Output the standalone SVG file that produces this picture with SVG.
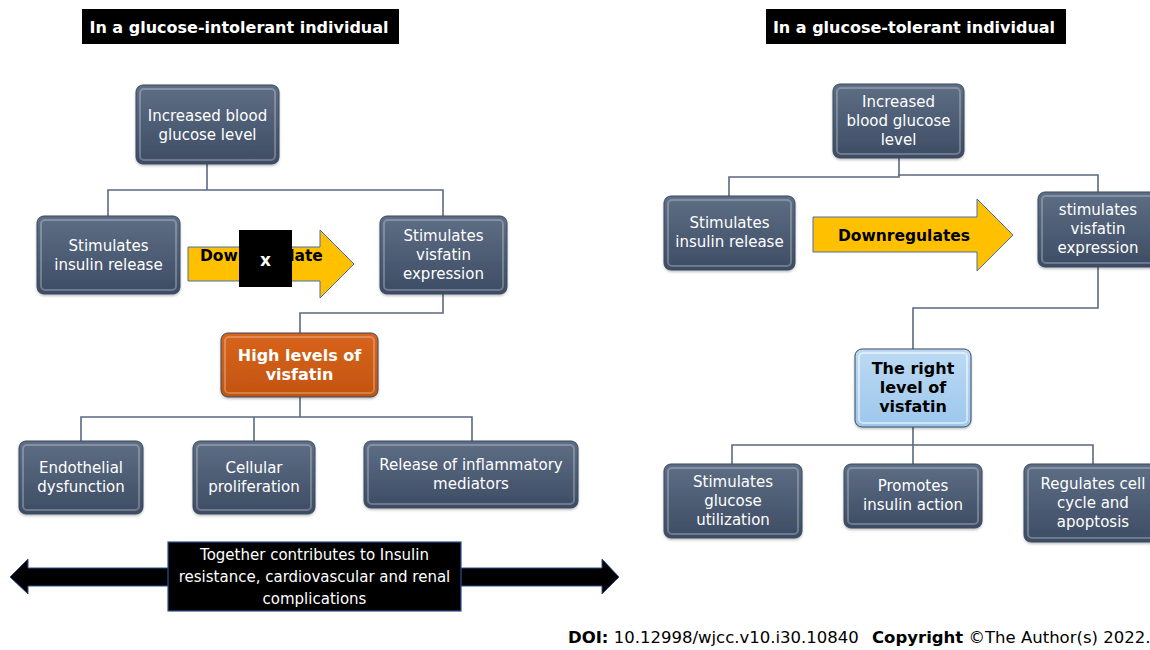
<svg xmlns="http://www.w3.org/2000/svg" width="1150" height="650" viewBox="0 0 1150 650">
<defs>
<linearGradient id="gSlate" x1="0" y1="0" x2="0" y2="1">
<stop offset="0" stop-color="#5e6e85"/><stop offset="1" stop-color="#3d4c64"/>
</linearGradient>
<linearGradient id="gOrange" x1="0" y1="0" x2="0" y2="1">
<stop offset="0" stop-color="#d8641c"/><stop offset="1" stop-color="#c2540f"/>
</linearGradient>
<linearGradient id="gBlue" x1="0" y1="0" x2="0" y2="1">
<stop offset="0" stop-color="#bcdaf4"/><stop offset="1" stop-color="#9dc7ec"/>
</linearGradient>
<filter id="sh" x="-10%" y="-10%" width="125%" height="130%">
<feDropShadow dx="0" dy="1.5" stdDeviation="1.2" flood-color="#000" flood-opacity="0.25"/>
</filter>
</defs>
<style>
.node rect.b{stroke:#3a4a60;stroke-width:1;filter:url(#sh)}
.node rect.hl{fill:none;stroke:#ffffff;stroke-opacity:0.25;stroke-width:2}
.slate{fill:url(#gSlate)}
.orange{fill:url(#gOrange);stroke:#b04a0c}
.blue{fill:url(#gBlue);stroke:#8ab4dc}
text{font-family:"DejaVu Sans","Verdana",sans-serif;font-size:15px;text-anchor:middle}
.w{fill:#ffffff}
.k{fill:#000000}
.bold{font-weight:bold}
.title{font-weight:bold;font-size:16px;fill:#ffffff}
.conn{fill:none;stroke:#5a6a80;stroke-width:1.6}
.yarrow{fill:#ffc000;stroke:#4a6ea8;stroke-width:1}
</style>

<!-- titles -->
<g id="title-left">
<rect x="82" y="9" width="317" height="35" fill="#000"/>
<text class="title" x="239" y="33">In a glucose-intolerant individual</text>
</g>
<g id="title-right">
<rect x="766" y="9" width="300" height="35" fill="#000"/>
<text class="title" x="914" y="33">In a glucose-tolerant individual</text>
</g>

<!-- connectors -->
<g id="connectors">
<polyline class="conn" points="207,164 207,190"/>
<polyline class="conn" points="108,216 108,190 443,190 443,216"/>
<polyline class="conn" points="443,294 443,313 300,313 300,333"/>
<polyline class="conn" points="300,397 300,417"/>
<polyline class="conn" points="81,441 81,417 472,417 472,441"/>
<polyline class="conn" points="254,417 254,441"/>

<polyline class="conn" points="899,158 899,176"/>
<polyline class="conn" points="729,196 729,177 899,177 899,175 1098,175 1098,192"/>
<polyline class="conn" points="1098,267 1098,308 913,308 913,349"/>
<polyline class="conn" points="913,427 913,445"/>
<polyline class="conn" points="732,464 732,445 1093,445 1093,464"/>
<polyline class="conn" points="913,445 913,464"/>
</g>

<!-- left side nodes -->
<g id="l-glucose" class="node">
<rect class="b slate" x="136" y="85" width="143" height="79" rx="7"/>
<rect class="hl" x="140" y="89" width="135" height="71" rx="4"/>
<text class="w" x="207.5" y="121">Increased blood</text>
<text class="w" x="207.5" y="140">glucose level</text>
</g>
<g id="l-insulin" class="node">
<rect class="b slate" x="37" y="216" width="143" height="78" rx="7"/>
<rect class="hl" x="41" y="220" width="135" height="70" rx="4"/>
<text class="w" x="108.5" y="251">Stimulates</text>
<text class="w" x="108.5" y="270">insulin release</text>
</g>
<g id="l-visfatin-expr" class="node">
<rect class="b slate" x="380" y="216" width="127" height="78" rx="7"/>
<rect class="hl" x="384" y="220" width="119" height="70" rx="4"/>
<text class="w" x="443.5" y="241">Stimulates</text>
<text class="w" x="443.5" y="260">visfatin</text>
<text class="w" x="443.5" y="279">expression</text>
</g>
<g id="l-downregulate">
<polygon class="yarrow" points="188,247 320,247 320,230 354,264 320,298 320,281 188,281"/>
<text class="k bold" x="200" y="261" style="text-anchor:start;font-size:15.5px">Downregulate</text>
<rect x="239" y="230" width="53" height="57" fill="#000"/>
<text class="w bold" x="265.5" y="266" style="font-size:17px">x</text>
</g>
<g id="l-high" class="node">
<rect class="b orange" x="221" y="333" width="157" height="64" rx="7"/>
<rect class="hl" x="225" y="337" width="149" height="56" rx="4"/>
<text class="w bold" x="299.5" y="361" style="font-size:16px">High levels of</text>
<text class="w bold" x="299.5" y="380" style="font-size:16px">visfatin</text>
</g>
<g id="l-endo" class="node">
<rect class="b slate" x="19" y="441" width="124" height="73" rx="7"/>
<rect class="hl" x="23" y="445" width="116" height="65" rx="4"/>
<text class="w" x="81" y="473">Endothelial</text>
<text class="w" x="81" y="492">dysfunction</text>
</g>
<g id="l-cell" class="node">
<rect class="b slate" x="193" y="441" width="122" height="73" rx="7"/>
<rect class="hl" x="197" y="445" width="114" height="65" rx="4"/>
<text class="w" x="254" y="473">Cellular</text>
<text class="w" x="254" y="492">proliferation</text>
</g>
<g id="l-release" class="node">
<rect class="b slate" x="364" y="441" width="214" height="67" rx="7"/>
<rect class="hl" x="368" y="445" width="206" height="59" rx="4"/>
<text class="w" x="471" y="470">Release of inflammatory</text>
<text class="w" x="471" y="489">mediators</text>
</g>
<g id="l-together">
<polygon points="10,577 28,559 28,568 602,568 602,559 619,577 602,594 602,586 28,586 28,594" fill="#000" stroke="#2f4f8f" stroke-width="1"/>
<rect x="168" y="542" width="293" height="69" fill="#000" stroke="#2f4f8f" stroke-width="1.2"/>
<text class="w" x="314.5" y="560">Together contributes to Insulin</text>
<text class="w" x="314.5" y="582">resistance, cardiovascular and renal</text>
<text class="w" x="314.5" y="604">complications</text>
</g>

<!-- right side nodes -->
<g id="r-glucose" class="node">
<rect class="b slate" x="833" y="84" width="131" height="74" rx="7"/>
<rect class="hl" x="837" y="88" width="123" height="66" rx="4"/>
<text class="w" x="898.5" y="107">Increased</text>
<text class="w" x="898.5" y="126">blood glucose</text>
<text class="w" x="898.5" y="145">level</text>
</g>
<g id="r-insulin" class="node">
<rect class="b slate" x="664" y="196" width="131" height="74" rx="7"/>
<rect class="hl" x="668" y="200" width="123" height="66" rx="4"/>
<text class="w" x="729.5" y="228">Stimulates</text>
<text class="w" x="729.5" y="247">insulin release</text>
</g>
<g id="r-visfatin-expr" class="node">
<rect class="b slate" x="1038" y="192" width="124" height="75" rx="7"/>
<rect class="hl" x="1042" y="196" width="116" height="67" rx="4"/>
<text class="w" x="1098" y="215">stimulates</text>
<text class="w" x="1098" y="234">visfatin</text>
<text class="w" x="1098" y="253">expression</text>
</g>
<g id="r-downregulates">
<polygon class="yarrow" points="813,217 977,217 977,199 1013,235 977,271 977,252 813,252"/>
<text class="k bold" x="904" y="241" style="font-size:15.5px">Downregulates</text>
</g>
<g id="r-right" class="node">
<rect class="b blue" x="855" y="349" width="116" height="78" rx="7"/>
<rect class="hl" x="859" y="353" width="108" height="70" rx="4" style="stroke-opacity:0.5"/>
<text class="k bold" x="913" y="374" style="font-size:16px">The right</text>
<text class="k bold" x="913" y="393" style="font-size:16px">level of</text>
<text class="k bold" x="913" y="412" style="font-size:16px">visfatin</text>
</g>
<g id="r-util" class="node">
<rect class="b slate" x="664" y="464" width="138" height="74" rx="7"/>
<rect class="hl" x="668" y="468" width="130" height="66" rx="4"/>
<text class="w" x="733" y="487">Stimulates</text>
<text class="w" x="733" y="506">glucose</text>
<text class="w" x="733" y="525">utilization</text>
</g>
<g id="r-promotes" class="node">
<rect class="b slate" x="844" y="464" width="138" height="64" rx="7"/>
<rect class="hl" x="848" y="468" width="130" height="56" rx="4"/>
<text class="w" x="913" y="491">Promotes</text>
<text class="w" x="913" y="510">insulin action</text>
</g>
<g id="r-regulates" class="node">
<rect class="b slate" x="1024" y="464" width="140" height="78" rx="7"/>
<rect class="hl" x="1028" y="468" width="132" height="70" rx="4"/>
<text class="w" x="1093" y="489">Regulates cell</text>
<text class="w" x="1093" y="508">cycle and</text>
<text class="w" x="1093" y="527">apoptosis</text>
</g>

<!-- footer -->
<text x="568" y="643" style="text-anchor:start;font-size:16.5px" fill="#000"><tspan font-weight="bold">DOI:</tspan> 10.12998/wjcc.v10.i30.10840<tspan x="872" font-weight="bold">Copyright</tspan> ©The Author(s) 2022.</text>
</svg>
